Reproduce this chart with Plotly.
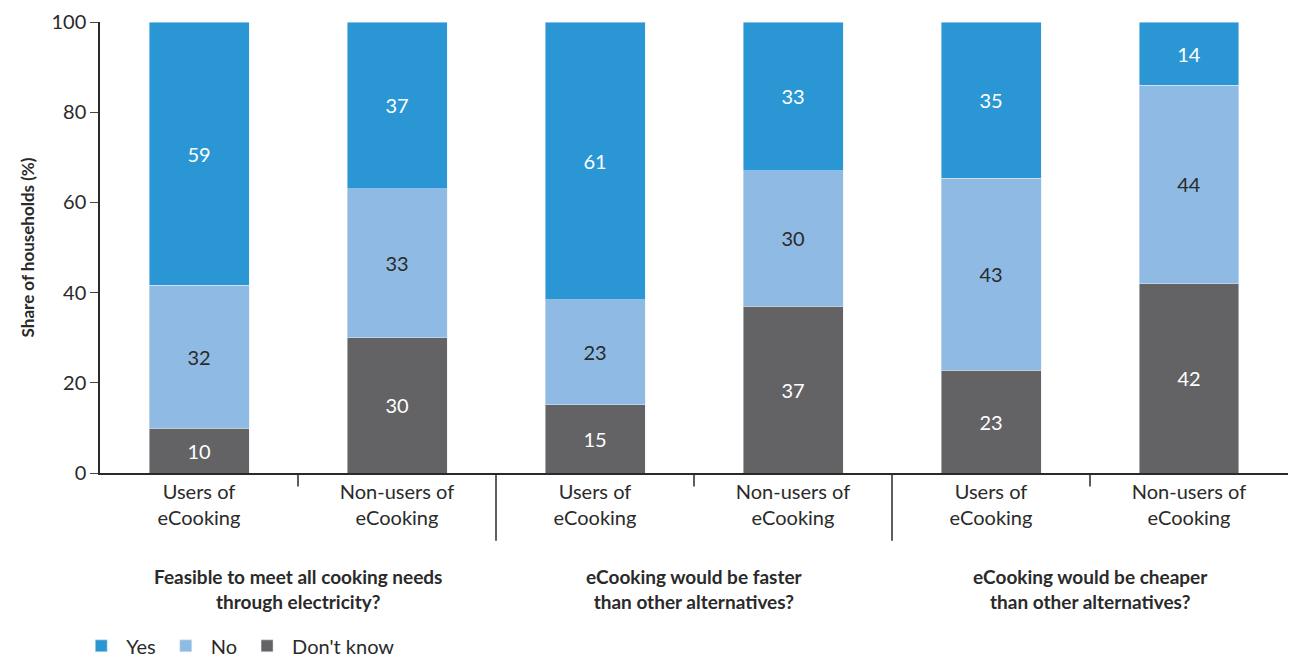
import plotly.graph_objects as go

categories = ["Users of<br>eCooking", "Non-users of<br>eCooking"] * 3
groups = ["Feasible to meet all cooking needs<br>through electricity?",
          "eCooking would be faster<br>than other alternatives?",
          "eCooking would be cheaper<br>than other alternatives?"]
dont_know = [10, 30, 15, 37, 23, 42]
no = [32, 33, 23, 30, 43, 44]
yes = [59, 37, 61, 33, 35, 14]

x = list(range(6))
font = "Lato"
fig = go.Figure()
for name, vals, color, tcol in [("Don't know", dont_know, "#636366", "white"),
                                ("No", no, "#8fbae3", "#2a2a2a"),
                                ("Yes", yes, "#2b96d4", "white")]:
    fig.add_bar(x=x, y=vals, name=name, marker_color=color, width=0.505,
                text=[str(v) for v in vals], textposition="inside",
                insidetextanchor="middle", textfont=dict(color=tcol, size=20, family=font),
                hoverinfo="skip")

fig.update_layout(
    barmode="stack", barnorm="percent",
    width=1302, height=669, paper_bgcolor="white", plot_bgcolor="white",
    margin=dict(l=92, r=22, t=14, b=194),
    font=dict(family=font, size=20, color="#2a2a2a"),
    legend=dict(orientation="h", x=-0.02, y=-0.34, xanchor="left", yanchor="top",
                traceorder="reversed", font=dict(size=20), itemwidth=40),
    xaxis=dict(range=[-0.5, 5.5], tickvals=x, ticktext=categories, showline=True,
               linecolor="#2a2a2a", linewidth=1.5, ticks="", tickfont=dict(size=20),
               automargin=False),
    yaxis=dict(range=[0, 100], tickvals=[0, 20, 40, 60, 80, 100], showgrid=False,
               showline=True, linecolor="#2a2a2a", linewidth=1.5, ticks="outside",
               ticklen=8, tickfont=dict(size=20), zeroline=False, automargin=False,
               title=dict(text="<b>Share of households (%)</b>", font=dict(size=17), standoff=12)),
    showlegend=True,
)
for xs, long in [(0.5, False), (1.5, True), (2.5, False), (3.5, True), (4.5, False)]:
    fig.add_shape(type="line", xref="x", yref="paper", x0=xs, x1=xs, y0=0,
                  y1=(-0.15 if long else -0.03), line=dict(color="#2a2a2a", width=1.5))
for i, g in enumerate(groups):
    fig.add_annotation(x=2 * i + 0.5, y=-0.2, xref="x", yref="paper", text="<b>" + g + "</b>",
                       showarrow=False, yanchor="top", font=dict(size=19))
fig.write_html("out.html")
